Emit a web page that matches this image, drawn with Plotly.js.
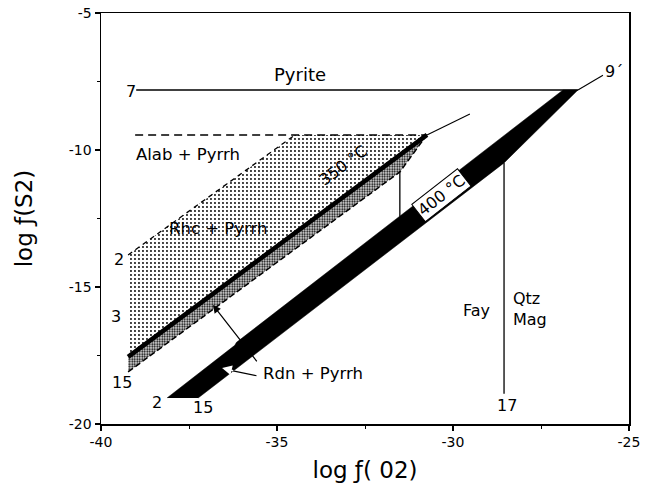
<!DOCTYPE html>
<html>
<head>
<meta charset="utf-8">
<script src="https://cdn.plot.ly/plotly-3.0.1.min.js"></script>
<style>html,body{margin:0;padding:0;background:#fff;}#chart{width:651px;height:493px;}</style>
</head>
<body>
<div id="chart"></div>
<script>
// Axis ticks
const xTickVals = [-40, -35, -30, -25];
const xTickText = ["-40", "-35", "-30", "-25"];
const yTickVals = [-5, -10, -15, -20];
const yTickText = ["-5", "-10", "-15", "-20"];

// Phase boundaries (log fO2, log fS2)
const pyriteX = [-39.0, -26.45];
const pyriteY = [-7.81, -7.81];
const line9X = [-26.45, -25.74];
const line9Y = [-7.81, -7.27];
const dashTopX = [-39.03, -30.74];
const dashTopY = [-9.45, -9.45];
const thinTopX = [-30.74, -29.52];
const thinTopY = [-9.45, -8.69];
const dashDiagX = [-39.23, -34.49];
const dashDiagY = [-13.83, -9.45];
const dottedX = [-39.23, -34.49, -30.74, -39.23];
const dottedY = [-13.83, -9.45, -9.45, -17.55];
const grayX = [-39.23, -30.74, -30.80, -31.51, -39.23];
const grayY = [-17.55, -9.45, -9.55, -10.80, -18.10];
const grayEdgeX = [-39.23, -31.51, -30.80];
const grayEdgeY = [-18.10, -10.80, -9.55];
const line350X = [-39.23, -30.74];
const line350Y = [-17.55, -9.45];
const vert350X = [-31.51, -31.51];
const vert350Y = [-10.80, -12.44];
const band400X = [-38.125, -36.2, -36.15, -26.875, -26.45, -28.55, -37.24];
const band400Y = [-19.05, -17.13, -17.02, -7.81, -7.81, -10.47, -19.05];
const vert400X = [-28.55, -28.55];
const vert400Y = [-10.47, -18.9];

// Labels
const labelText = ["Pyrite", "7", "9\u00b4", "Alab + Pyrrh", "Rhc + Pyrrh", "2", "3", "15", "2", "15", "17", "Fay", "Rdn + Pyrrh"];
const labelX = [-34.35, -39.15, -25.42, -37.53, -36.68, -39.49, -39.57, -39.40, -38.41, -37.10, -28.47, -29.32, -33.98];
const labelY = [-7.26, -7.85, -7.12, -10.18, -12.85, -13.98, -16.06, -18.47, -19.20, -19.38, -19.34, -15.84, -18.14];
const labelSize = [18, 16, 16, 16.5, 16.5, 16, 16, 16, 16, 16, 16, 16, 16.5];

// Arrows: head (x,y) and tail (x,y)
const arrowHeadX = [-36.82, -36.25];
const arrowHeadY = [-15.66, -18.06];
const arrowTailX = [-35.54, -35.54];
const arrowTailY = [-17.77, -18.25];
const whiteHeadX = [-36.56];
const whiteHeadY = [-17.96];
const whiteTailX = [-36.2];
const whiteTailY = [-18.07];

const black = '#000';
function line(x, y, w, dash) {
  return {x: x, y: y, type: 'scatter', mode: 'lines', hoverinfo: 'skip', showlegend: false,
          line: {color: black, width: w, dash: dash || 'solid'}};
}

const traces = [
  {x: dottedX, y: dottedY, type: 'scatter', mode: 'lines', fill: 'toself', hoverinfo: 'skip', showlegend: false,
   line: {width: 0, color: 'rgba(0,0,0,0)'}, fillcolor: 'rgba(0,0,0,0)',
   fillpattern: {shape: '.', size: 4, solidity: 0.18, fgcolor: '#000', bgcolor: '#fff'}},
  {x: grayX, y: grayY, type: 'scatter', mode: 'lines', fill: 'toself', hoverinfo: 'skip', showlegend: false,
   line: {width: 0, color: 'rgba(0,0,0,0)'}, fillcolor: 'rgba(0,0,0,0)',
   fillpattern: {shape: '.', size: 2.5, solidity: 0.45, fgcolor: '#000', bgcolor: '#e6e6e6'}},
  {x: band400X, y: band400Y, type: 'scatter', mode: 'lines', fill: 'toself', hoverinfo: 'skip', showlegend: false,
   line: {width: 0.5, color: black}, fillcolor: black},
  line(pyriteX, pyriteY, 1.3),
  line(line9X, line9Y, 1.1),
  line(dashTopX, dashTopY, 1.5, '8px,5px'),
  line(thinTopX, thinTopY, 1.1),
  line(dashDiagX, dashDiagY, 1.3, '5px,4px'),
  line(grayEdgeX, grayEdgeY, 1.5, '6px,3px'),
  line(line350X, line350Y, 4.5),
  line(vert350X, vert350Y, 1.3),
  line(vert400X, vert400Y, 1.3)
];

const fontFam = 'DejaVu Sans, Verdana, sans-serif';
const annotations = labelText.map((t, i) => ({
  x: labelX[i], y: labelY[i], xref: 'x', yref: 'y', text: t, showarrow: false,
  font: {family: fontFam, size: labelSize[i], color: black}
}));
annotations.push({x: -28.35, y: -15.8, xref: 'x', yref: 'y', text: 'Qtz<br>Mag', showarrow: false,
  xanchor: 'left', align: 'left', font: {family: fontFam, size: 16, color: black}});
annotations.push({x: -33.12, y: -10.58, xref: 'x', yref: 'y', text: '350 \u00b0C', showarrow: false,
  textangle: -37, font: {family: fontFam, size: 16, color: black}});
annotations.push({x: -30.34, y: -11.66, xref: 'x', yref: 'y', text: '400 \u00b0C', showarrow: false,
  textangle: -38, bgcolor: '#fff', bordercolor: black, borderwidth: 1, borderpad: 1,
  font: {family: fontFam, size: 16, color: black}});
arrowHeadX.forEach((hx, i) => annotations.push({x: hx, y: arrowHeadY[i], xref: 'x', yref: 'y',
  ax: arrowTailX[i], ay: arrowTailY[i], axref: 'x', ayref: 'y',
  text: '', showarrow: true, arrowhead: (i === 0 ? 2 : 0), arrowsize: 1.3, arrowwidth: 1.2, arrowcolor: black, standoff: 0}));
whiteHeadX.forEach((hx, i) => annotations.push({x: hx, y: whiteHeadY[i], xref: 'x', yref: 'y',
  ax: whiteTailX[i], ay: whiteTailY[i], axref: 'x', ayref: 'y',
  text: '', showarrow: true, arrowhead: 2, arrowsize: 1.3, arrowwidth: 1.5, arrowcolor: '#fff', standoff: 0}));

const layout = {
  width: 651, height: 493,
  margin: {l: 101, r: 22, t: 13, b: 69},
  paper_bgcolor: '#fff', plot_bgcolor: '#fff',
  showlegend: false,
  font: {family: fontFam, size: 13, color: black},
  xaxis: {
    range: [-40, -25], tickvals: xTickVals, ticktext: xTickText,
    ticks: 'outside', ticklen: 5, tickwidth: 1.3, tickcolor: black,
    minor: {tickvals: [-37.5, -32.5, -27.5], ticks: 'outside', ticklen: 3, tickwidth: 1, tickcolor: black},
    showline: true, linewidth: 1.5, linecolor: black, mirror: true,
    showgrid: false, zeroline: false,
    tickfont: {family: fontFam, size: 14, color: black},
    title: {text: 'log \u0192( 02)', font: {family: fontFam, size: 23, color: black}, standoff: 12}
  },
  yaxis: {
    range: [-20, -5], tickvals: yTickVals, ticktext: yTickText,
    ticks: 'outside', ticklen: 5, tickwidth: 1.3, tickcolor: black,
    minor: {tickvals: [-7.5, -12.5, -17.5], ticks: 'outside', ticklen: 3, tickwidth: 1, tickcolor: black},
    showline: true, linewidth: 1.5, linecolor: black, mirror: true,
    showgrid: false, zeroline: false,
    tickfont: {family: fontFam, size: 14, color: black},
    title: {text: 'log \u0192(S2)', font: {family: fontFam, size: 23, color: black}, standoff: 30}
  },
  annotations: annotations
};

Plotly.newPlot('chart', traces, layout, {staticPlot: true, displayModeBar: false});
</script>
</body>
</html>
